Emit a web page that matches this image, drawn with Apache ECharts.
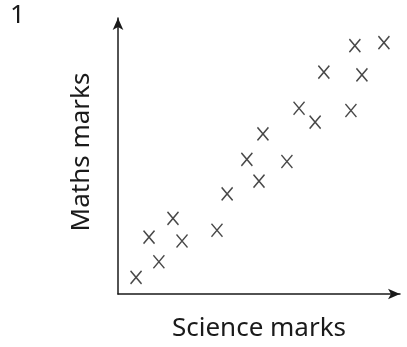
<!DOCTYPE html>
<html><head><meta charset="utf-8">
<script src="https://cdn.jsdelivr.net/npm/echarts@6/dist/echarts.min.js"></script>
<style>html,body{margin:0;padding:0;background:#fff}#c{width:407px;height:347px}</style>
</head><body><div id="c"></div>
<script>
const questionNumber = '1';
const xAxisTitle = 'Science marks';
const yAxisTitle = 'Maths marks';
const scienceMarks = [6.4, 11.0, 14.5, 19.5, 22.7, 35.1, 38.7, 45.7, 50.0, 51.4, 59.9, 64.2, 69.9, 73.0, 82.6, 84.0, 86.5, 94.3];
const mathsMarks   = [6.0, 20.6, 11.7, 27.4, 19.2, 23.1, 36.3, 48.8, 40.9, 58.0, 48.0, 67.3, 62.3, 80.4, 66.5, 90.0, 79.4, 91.1];

const points = scienceMarks.map((s, i) => [s, mathsMarks[i]]);
const FONT = '"Noto Sans", sans-serif';
const INK = '#1a1a1a';
const chart = echarts.init(document.getElementById('c'), null, {renderer: 'canvas'});
chart.setOption({
  animation: false,
  backgroundColor: '#fff',
  grid: {left: 118, right: 7, top: 18, bottom: 48},
  graphic: [{type: 'text', left: 10, top: 3, style: {text: questionNumber, font: '26px ' + FONT, fill: INK}}],
  xAxis: {
    type: 'value', min: 0, max: 100,
    name: xAxisTitle, nameLocation: 'middle', nameGap: 22,
    nameTextStyle: {fontFamily: FONT, fontSize: 26, color: INK},
    axisLine: {show: true, lineStyle: {color: INK, width: 1.5}, symbol: ['none', 'arrow'], symbolSize: [8, 12]},
    axisTick: {show: false}, axisLabel: {show: false}, splitLine: {show: false}
  },
  yAxis: {
    type: 'value', min: 0, max: 100,
    name: yAxisTitle, nameLocation: 'middle', nameGap: 23,
    nameTextStyle: {fontFamily: FONT, fontSize: 26, color: INK, padding: [0, 0, 0, 8]},
    axisLine: {show: true, lineStyle: {color: INK, width: 1.5}, symbol: ['none', 'arrow'], symbolSize: [8, 12]},
    axisTick: {show: false}, axisLabel: {show: false}, splitLine: {show: false}
  },
  series: [{
    type: 'scatter',
    data: points,
    symbol: 'path://M0,0L10,12M10,0L0,12',
    symbolSize: [11, 13],
    itemStyle: {color: 'rgba(0,0,0,0)', borderColor: INK, borderWidth: 1.5}
  }]
});
</script></body></html>
